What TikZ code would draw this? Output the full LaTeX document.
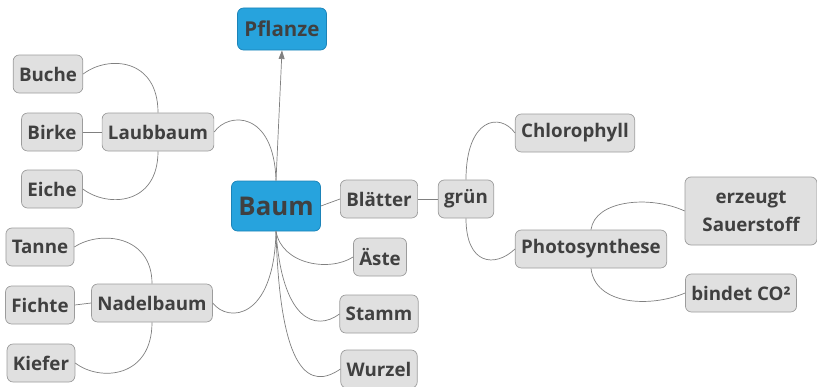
\documentclass[tikz,border=0pt]{standalone}
\usepackage{fontspec}
\setmainfont{Open Sans}
\usepackage{xcolor}
\usetikzlibrary{arrows.meta}
\definecolor{boxfill}{HTML}{E0E0E0}
\definecolor{boxline}{HTML}{9C9C9C}
\definecolor{txt}{HTML}{404040}
\definecolor{bluefill}{HTML}{27A3DD}
\definecolor{blueline}{HTML}{1B83B8}
\definecolor{con}{HTML}{808080}
\tikzset{
  box/.style   = {rectangle, rounded corners=1.8mm, draw=boxline, fill=boxfill, text=txt,
                  align=center, font=\bfseries\fontsize{16}{19}\selectfont,
                  minimum height=11.4mm, inner xsep=5pt, line width=0.6pt},
  boxc/.style  = {box, draw=blueline, fill=bluefill},
  ln/.style    = {con, line width=0.6pt},
  lna/.style   = {ln, -{Triangle[length=2.6mm,width=1.8mm]}},
}
\begin{document}
\begin{tikzpicture}[x=0.3mm, y=-0.3mm]
  \useasboundingbox (0,0) rectangle (817,387);
  % centre and parent
  \node[boxc, minimum width=26.7mm, minimum height=15mm, font=\bfseries\fontsize{22}{26}\selectfont] (baum) at (276,206) {Baum};
  \node[boxc, minimum width=26.7mm, minimum height=12.6mm, font=\bfseries\fontsize{17.5}{20}\selectfont] (pfl) at (282,29) {Pflanze};
  % left side
  \node[box] (laub) at (158,132) {Laubbaum};
  \node[box] (buche) at (48,74) {Buche};
  \node[box] (birke) at (52,132) {Birke};
  \node[box] (eiche) at (52,189) {Eiche};
  \node[box] (nadel) at (152,303) {Nadelbaum};
  \node[box] (tanne) at (40,247) {Tanne};
  \node[box] (fichte) at (40,305) {Fichte};
  \node[box] (kiefer) at (41,363) {Kiefer};
  % right side
  \node[box] (blaetter) at (379,199) {Blätter};
  \node[box] (aeste) at (380,257) {Äste};
  \node[box] (stamm) at (379,314) {Stamm};
  \node[box] (wurzel) at (379,369) {Wurzel};
  \node[box] (gruen) at (466,199) {grün};
  \node[box] (chloro) at (575,133) {Chlorophyll};
  \node[box] (photo) at (591,249) {Photosynthese};
  \node[box, minimum width=39.6mm, minimum height=20.4mm, font=\bfseries\fontsize{16}{24}\selectfont] (sauer) at (751,211) {erzeugt\\ Sauerstoff};
  \node[box] (co2) at (741,293) {bindet CO²};

  \draw[lna] (baum.north) -- (pfl.south);
  \draw[ln] (laub.east) .. controls (228,112) and (274,110) .. (baum.north);
  \draw[ln] (laub.north) .. controls (158,58) and (108,55) .. (buche.east);
  \draw[ln] (laub.west) -- (birke.east);
  \draw[ln] (laub.south) .. controls (158,205) and (108,208) .. (eiche.east);
  \draw[ln] (nadel.east) .. controls (228,323) and (274,320) .. (baum.south);
  \draw[ln] (nadel.north) .. controls (152,235) and (100,230) .. (tanne.east);
  \draw[ln] (nadel.west) -- (fichte.east);
  \draw[ln] (nadel.south) .. controls (152,378) and (100,382) .. (kiefer.east);
  \draw[ln] (baum.east) -- (blaetter.west);
  \draw[ln] (baum.south) .. controls (282,265) and (330,272) .. (aeste.west);
  \draw[ln] (baum.south) .. controls (282,320) and (315,332) .. (stamm.west);
  \draw[ln] (baum.south) .. controls (280,375) and (310,390) .. (wurzel.west);
  \draw[ln] (blaetter.east) -- (gruen.west);
  \draw[ln] (gruen.north) .. controls (466,118) and (500,112) .. (chloro.west);
  \draw[ln] (gruen.south) .. controls (466,265) and (495,268) .. (photo.west);
  \draw[ln] (photo.north) .. controls (595,200) and (650,195) .. (sauer.west);
  \draw[ln] (photo.south) .. controls (595,305) and (650,308) .. (co2.west);
\end{tikzpicture}
\end{document}
